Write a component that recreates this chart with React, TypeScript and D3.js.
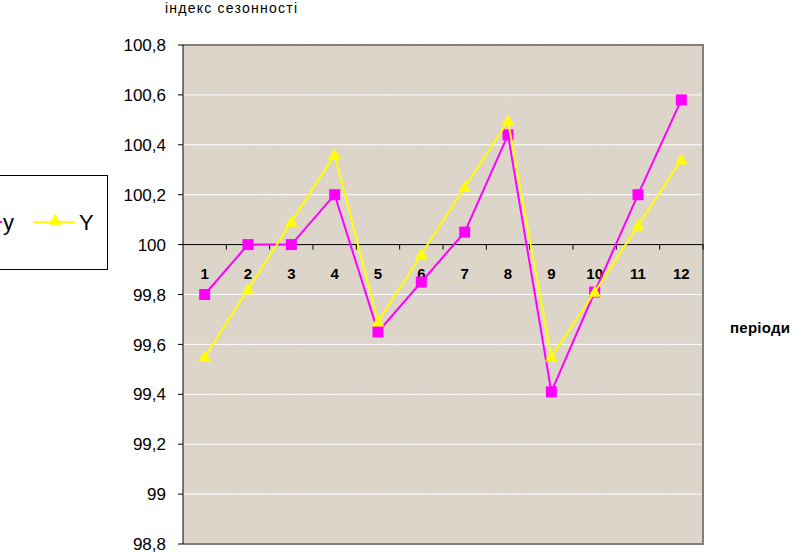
import React from "react";
import * as d3 from "d3";

const periods = ["1", "2", "3", "4", "5", "6", "7", "8", "9", "10", "11", "12"];
const seriesSmallY = [99.8, 100.0, 100.0, 100.2, 99.65, 99.85, 100.05, 100.44, 99.41, 99.81, 100.2, 100.58];
const seriesBigY = [99.55, 99.82, 100.09, 100.36, 99.69, 99.96, 100.23, 100.495, 99.55, 99.81, 100.075, 100.34];
const yTicks = [98.8, 99, 99.2, 99.4, 99.6, 99.8, 100, 100.2, 100.4, 100.6, 100.8];

const W = 794, H = 554;
const left = 183, right = 703, top = 45, bottom = 544;

export default function App() {
  const x = d3.scaleBand<string>().domain(periods).range([left, right]).padding(0);
  const y = d3.scaleLinear().domain([98.8, 100.8]).range([bottom, top]);
  const cx = (p: string) => (x(p) as number) + x.bandwidth() / 2;
  const line = d3.line<number>().x((_, i) => cx(periods[i])).y((v) => y(v));
  const fmt = (v: number) => String(Math.round(v * 10) / 10).replace(".", ",");
  const tri = d3.symbol().type(d3.symbolTriangle).size(70)() as string;
  const font = "Arial, 'Liberation Sans', sans-serif";

  return (
    <svg width={W} height={H} style={{ position: "absolute", left: 0, top: 0 }} fontFamily={font}>
      <defs>
        <filter id="noise" x="0" y="0" width="100%" height="100%">
          <feTurbulence type="fractalNoise" baseFrequency="0.9" numOctaves="2" seed="3" />
          <feColorMatrix type="matrix" values="0 0 0 0 0.55  0 0 0 0 0.5  0 0 0 0 0.44  0 0 0 0.35 -0.05" />
          <feComposite in2="SourceGraphic" operator="in" />
        </filter>
      </defs>
      <rect x={0} y={0} width={W} height={H} fill="#fff" />
      <text x={165} y={13} fontSize={14} fill="#000" textLength={132} lengthAdjust="spacing">індекс сезонності</text>
      <rect x={left} y={top} width={right - left} height={bottom - top} fill="#DFD7CB" />
      <rect x={left} y={top} width={right - left} height={bottom - top} fill="#DFD7CB" filter="url(#noise)" opacity={0.6} />
      {yTicks.filter((t) => t !== 100 && t !== 98.8 && t !== 100.8).map((t) => (
        <line key={t} x1={left} x2={right} y1={y(t)} y2={y(t)} stroke="#fff" strokeWidth={1} />
      ))}
      <path d={`M${left},${top}H${right}V${bottom}H${left}`} fill="none" stroke="#808080" strokeWidth={2} />
      <line x1={left} x2={left} y1={top} y2={bottom} stroke="#000" strokeWidth={1} />
      {yTicks.map((t) => (
        <g key={t}>
          <line x1={left - 5} x2={left} y1={y(t)} y2={y(t)} stroke="#000" />
          <text x={166} y={y(t)} dy="0.36em" fontSize={17} textAnchor="end" fill="#000">{fmt(t)}</text>
        </g>
      ))}
      <line x1={left} x2={right} y1={y(100)} y2={y(100)} stroke="#000" strokeWidth={1} />
      {periods.map((p, i) => (
        <g key={p}>
          {i > 0 && <line x1={x(p) as number} x2={x(p) as number} y1={y(100)} y2={y(100) + 5} stroke="#000" />}
          <text x={cx(p)} y={y(100) + 34} textAnchor="middle" fontSize={15} fontWeight="bold" fill="#000">{p}</text>
        </g>
      ))}
      <line x1={right} x2={right} y1={y(100)} y2={y(100) + 5} stroke="#000" />
      <path d={line(seriesSmallY) as string} fill="none" stroke="#FF00FF" strokeWidth={2} />
      {seriesSmallY.map((v, i) => (
        <rect key={i} x={cx(periods[i]) - 5.5} y={y(v) - 5.5} width={11} height={11} fill="#FF00FF" />
      ))}
      <path d={line(seriesBigY) as string} fill="none" stroke="#FFFF00" strokeWidth={2} />
      {seriesBigY.map((v, i) => (
        <path key={i} d={tri} transform={`translate(${cx(periods[i])},${y(v) + 1})`} fill="#FFFF00" />
      ))}
      <text x={730} y={333} fontSize={15} fontWeight="bold" fill="#000" textLength={60} lengthAdjust="spacing">періоди</text>
      <rect x={-10} y={175.5} width={117.5} height={94} fill="#fff" stroke="#000" strokeWidth={1} />
      <line x1={-10} x2={2} y1={222} y2={222} stroke="#FF00FF" strokeWidth={2} />
      <text x={3} y={230} fontSize={22} fill="#000">y</text>
      <line x1={33} x2={75} y1={222} y2={222} stroke="#FFFF00" strokeWidth={2} />
      <path d={tri} transform="translate(55,221)" fill="#FFFF00" />
      <text x={79} y={230} fontSize={22} fill="#000">Y</text>
    </svg>
  );
}
